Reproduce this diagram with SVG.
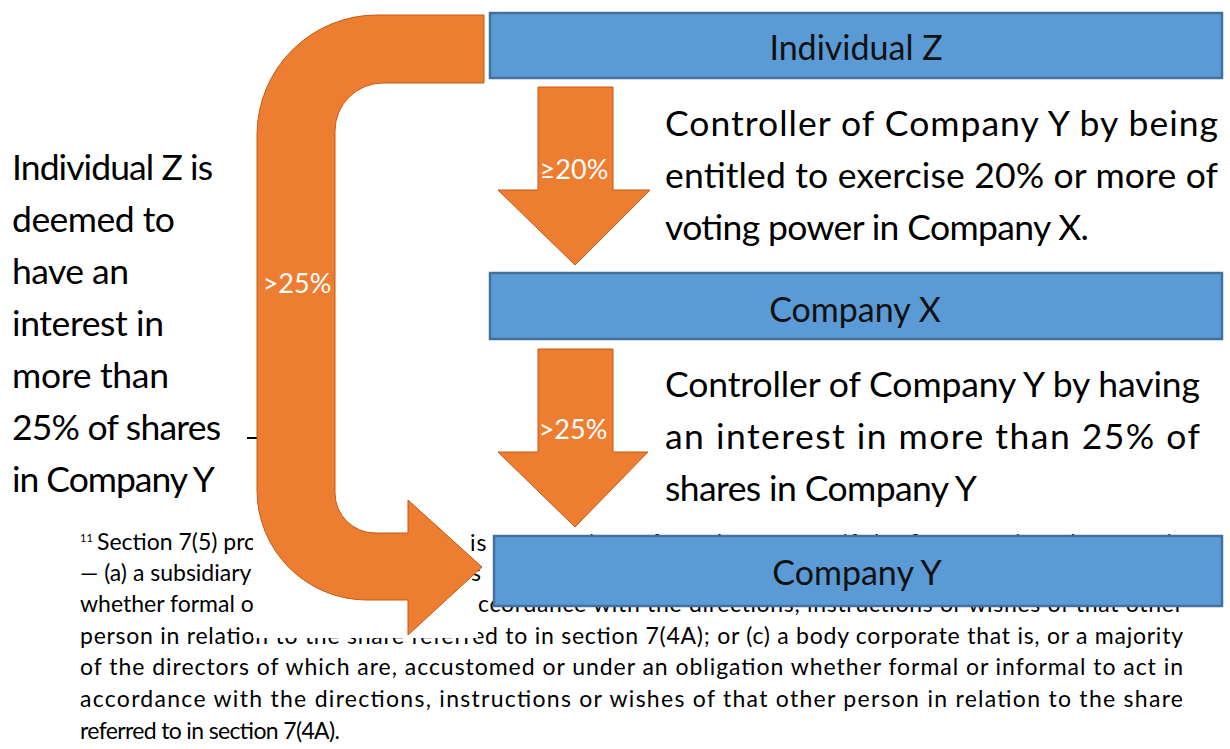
<svg xmlns="http://www.w3.org/2000/svg" width="1230" height="749" viewBox="0 0 1230 749">
<style>
.t{font-family:Lato,"Liberation Sans",sans-serif;fill:#000}
.big{font-size:35.5px}
.par{font-size:23px}
.lbl{font-size:34px;text-anchor:middle;fill:#111}
.wl{font-family:Lato,"Liberation Sans",sans-serif;font-size:27px;fill:#fff;text-anchor:middle}
.box{fill:#5B9BD5;stroke:#41719C;stroke-width:2.5}
.arr{fill:#ED7D31;stroke:#C55A11;stroke-width:1}
</style>
<rect width="1230" height="749" fill="#fff"/>
<g id="footnote">
<text class="t" x="80" y="542" font-size="11">11</text>
<text class="t par" x="97" y="550">Section 7(5) provides</text>
<text class="t par" x="470" y="551" textLength="713" lengthAdjust="spacing">is an associate of another person if the first mentioned person is</text>
<text class="t par" x="80" y="581">— (a) a subsidiary</text>
<text class="t par" x="471" y="581">s</text>
<text class="t par" x="80" y="612">whether formal or informal</text>
<text class="t par" x="466" y="612" textLength="717" lengthAdjust="spacing">accordance with the directions, instructions or wishes of that other</text>
<text class="t par" x="80" y="644" textLength="1103" lengthAdjust="spacing">person in relation to the share referred to in section 7(4A); or (c) a body corporate that is, or a majority</text>
<text class="t par" x="80" y="675" textLength="1103" lengthAdjust="spacing">of the directors of which are, accustomed or under an obligation whether formal or informal to act in</text>
<text class="t par" x="80" y="707" textLength="1103" lengthAdjust="spacing">accordance with the directions, instructions or wishes of that other person in relation to the share</text>
<text class="t par" x="80" y="739" textLength="260" lengthAdjust="spacing">referred to in section 7(4A).</text>
<path d="M253,520 H468 V590 H478 V638 H253 Z" fill="#fff"/>
</g>
<g id="left-text">
<text class="t big" x="12" y="180" textLength="201" lengthAdjust="spacing">Individual Z is</text>
<text class="t big" x="12" y="232" textLength="163" lengthAdjust="spacing">deemed to</text>
<text class="t big" x="12" y="284" textLength="117" lengthAdjust="spacing">have an</text>
<text class="t big" x="12" y="336" textLength="152" lengthAdjust="spacing">interest in</text>
<text class="t big" x="12" y="388" textLength="157" lengthAdjust="spacing">more than</text>
<text class="t big" x="12" y="440" textLength="209" lengthAdjust="spacing">25% of shares</text>
<text class="t big" x="12" y="492" textLength="203" lengthAdjust="spacing">in Company Y</text>
<line x1="247" y1="438" x2="258" y2="438" stroke="#000" stroke-width="2"/>
</g>
<g id="connectors">
<g id="arrow-z-y">
<path class="arr" d="M484,15 H377 A120,120 0 0 0 257,135 V490 A110,110 0 0 0 367,600 H408 V635 L482,567 L408,500 V533 H375 A40,40 0 0 1 335,493 V131 A48,48 0 0 1 383,83 H484 Z"/>
<text class="wl" x="297" y="293">&gt;25%</text>
</g>
<g id="arrow-z-x">
<path class="arr" d="M538,87 H613 V190 H650 L575,265 L498,190 H538 Z"/>
<text class="wl" x="574" y="179">≥20%</text>
</g>
<g id="arrow-x-y">
<path class="arr" d="M538,349 H613 V452 H648 L575,527 L498,452 H538 Z"/>
<text class="wl" x="573" y="439">&gt;25%</text>
</g>
</g>
<g id="individual-z">
<rect class="box" x="490" y="13" width="732" height="65"/>
<text class="t lbl" x="856" y="60">Individual Z</text>
</g>
<g id="company-x">
<rect class="box" x="490" y="273" width="732" height="66"/>
<text class="t lbl" x="855" y="322">Company X</text>
</g>
<g id="company-y">
<rect class="box" x="494" y="536" width="728" height="70"/>
<text class="t lbl" x="857" y="585">Company Y</text>
</g>
<g id="desc-1">
<text class="t big" x="665" y="136" textLength="553" lengthAdjust="spacing">Controller of Company Y by being</text>
<text class="t big" x="665" y="188" textLength="553" lengthAdjust="spacing">entitled to exercise 20% or more of</text>
<text class="t big" x="665" y="240" textLength="424" lengthAdjust="spacing">voting power in Company X.</text>
</g>
<g id="desc-2">
<text class="t big" x="665" y="397" textLength="535" lengthAdjust="spacing">Controller of Company Y by having</text>
<text class="t big" x="665" y="449" textLength="535" lengthAdjust="spacing">an interest in more than 25% of</text>
<text class="t big" x="665" y="501" textLength="312" lengthAdjust="spacing">shares in Company Y</text>
</g>
</svg>
